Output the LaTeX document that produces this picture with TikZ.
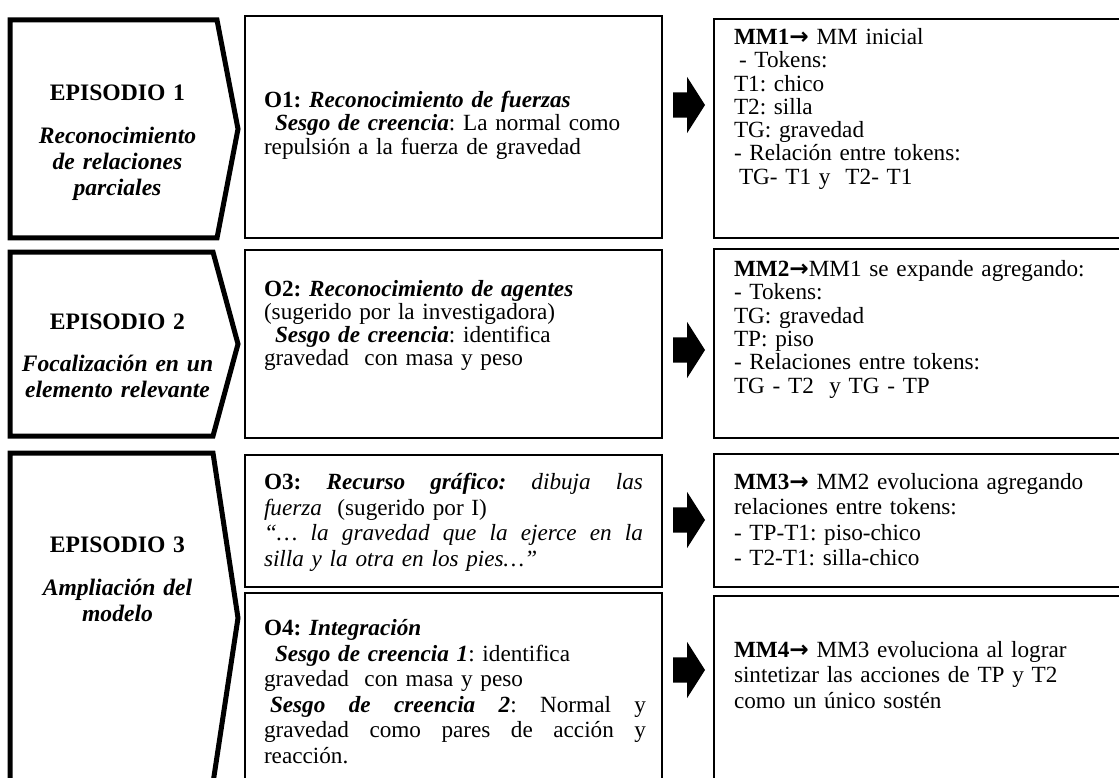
\documentclass[tikz,border=0pt]{standalone}
\usepackage{fontspec}
\setmainfont{Liberation Serif}
\newfontfamily\arw{DejaVu Sans}
\usetikzlibrary{shapes.arrows,calc}
\frenchspacing
\newcommand\ar{{\arw\bfseries\symbol{"2192}}}
\newcommand\jl[2]{\leavevmode\hbox to #1{#2}}
\newcommand\bi[1]{\textbf{\textit{#1}}}
\begin{document}
\begin{tikzpicture}[x=1pt,y=-1pt,
 every node/.style={inner sep=0pt, outer sep=0pt},
 epi/.style={line width=5pt, line join=miter, miter limit=30},
 box/.style={draw, line width=2pt, rectangle, anchor=north west},
 txt/.style={anchor=base west, text width=#1, align=left, font=\fontsize{23.2}{23.3}\selectfont\frenchspacing},
 txtb/.style={anchor=base west, text width=#1, align=left, font=\fontsize{23.2}{25.5}\selectfont\frenchspacing},
 eptxt/.style={anchor=base, text width=225pt, align=center, font=\fontsize{23.6}{26}\selectfont},
 blk/.style={shape=single arrow, fill=black, anchor=tail, inner xsep=0pt, inner ysep=12.5pt,
   minimum height=32pt, single arrow head extend=15.5pt, single arrow tip angle=115,
   single arrow head indent=0pt}
]
\useasboundingbox (0,0) rectangle (1119,778);
\clip (0,0) rectangle (1119,778);

% episode shapes
\draw[epi] (10,20) -- (217,20) -- (238,129) -- (217,238) -- (10,238) -- cycle;
\draw[epi] (10,252) -- (213,252) -- (238,344) -- (213,436) -- (10,436) -- cycle;
\draw[epi] (10,453) -- (213,453) -- (238,618) -- (213,783) -- (10,783) -- cycle;

\node[eptxt] (e1) at (117.5,101) {\textbf{EPISODIO 1}\\[17pt]\bi{Reconocimiento}\\\bi{de relaciones}\\\bi{parciales}};
\node[eptxt] (e2) at (117.5,329) {\textbf{EPISODIO 2}\\[16pt]\bi{Focalización en un}\\\bi{elemento relevante}};
\node[eptxt] (e3) at (117.5,552) {\textbf{EPISODIO 3}\\[17pt]\bi{Ampliación del}\\\bi{modelo}};

% middle boxes
\node[box, minimum width=417pt, minimum height=222pt] (o1) at (245,16) {};
\node[box, minimum width=417pt, minimum height=188pt] (o2) at (245,250) {};
\node[box, minimum width=417pt, minimum height=132pt] (o3) at (245,455) {};
\node[box, minimum width=417pt, minimum height=200pt] (o4) at (245,593) {};

% right boxes
\node[box, minimum width=430pt, minimum height=219pt] (m1) at (714,19) {};
\node[box, minimum width=430pt, minimum height=189pt] (m2) at (714,249) {};
\node[box, minimum width=430pt, minimum height=133pt] (m3) at (714,454) {};
\node[box, minimum width=430pt, minimum height=200pt] (m4) at (714,596) {};

% texts
\node[txt=390pt] (o1t) at (264,107.5) {\textbf{O1:} \bi{Reconocimiento de fuerzas}\\
\hspace*{11pt}\bi{Sesgo de creencia}: La normal como\\
repulsión a la fuerza de gravedad};

\node[txt=390pt] (o2t) at (264,296) {\textbf{O2:} \bi{Reconocimiento de agentes}\\
(sugerido por la investigadora)\\
\hspace*{11pt}\bi{Sesgo de creencia}: identifica\\
gravedad~~con masa y peso};

\node[txtb=390pt] (o3t) at (264,489.5) {\jl{379pt}{\textbf{O3:}\hfil\bi{Recurso}\hfil\bi{gráfico:}\hfil\textit{dibuja}\hfil\textit{las}}\\
\textit{fuerza}~~(sugerido por I)\\
\jl{379pt}{\textit{“…}\hfil\textit{la}\hfil\textit{gravedad}\hfil\textit{que}\hfil\textit{la}\hfil\textit{ejerce}\hfil\textit{en}\hfil\textit{la}}\\
\textit{silla y la otra en los pies…”}};

\node[txtb=390pt] (o4t) at (264,635.5) {\textbf{O4:} \bi{Integración}\\
\hspace*{11pt}\bi{Sesgo de creencia 1}: identifica\\
gravedad~~con masa y peso\\
\jl{382pt}{\hspace*{6pt}\bi{Sesgo}\hfil\bi{de}\hfil\bi{creencia}\hfil\bi{2}:\hfil Normal\hfil y}\\
\jl{382pt}{gravedad\hfil como\hfil pares\hfil de\hfil acción\hfil y}\\
reacción.};

\node[txt=390pt] (m1t) at (734,44.5) {\textbf{MM1}\ar\ MM inicial\\
\hspace*{5pt}- Tokens:\\
T1: chico\\
T2: silla\\
TG: gravedad\\
- Relación entre tokens:\\
\hspace*{5pt}TG- T1 y\hspace*{15pt}T2- T1};

\node[txt=390pt] (m2t) at (734,276.5) {\textbf{MM2}\ar MM1 se expande agregando:\\
- Tokens:\\
TG: gravedad\\
TP: piso\\
- Relaciones entre tokens:\\
TG - T2~~y TG - TP};

\node[txtb=390pt] (m3t) at (734,489) {\textbf{MM3}\ar\ MM2 evoluciona agregando\\
relaciones entre tokens:\\
- TP-T1: piso-chico\\
- T2-T1: silla-chico};

\node[txtb=390pt] (m4t) at (734,657) {\textbf{MM4}\ar\ MM3 evoluciona al lograr\\
sintetizar las acciones de TP y T2\\
como un único sostén};

% block arrows
\node[blk] (a1) at (673,105) {};
\node[blk] (a2) at (673,350) {};
\node[blk] (a3) at (673,520) {};
\node[blk] (a4) at (673,670) {};
\end{tikzpicture}
\end{document}
